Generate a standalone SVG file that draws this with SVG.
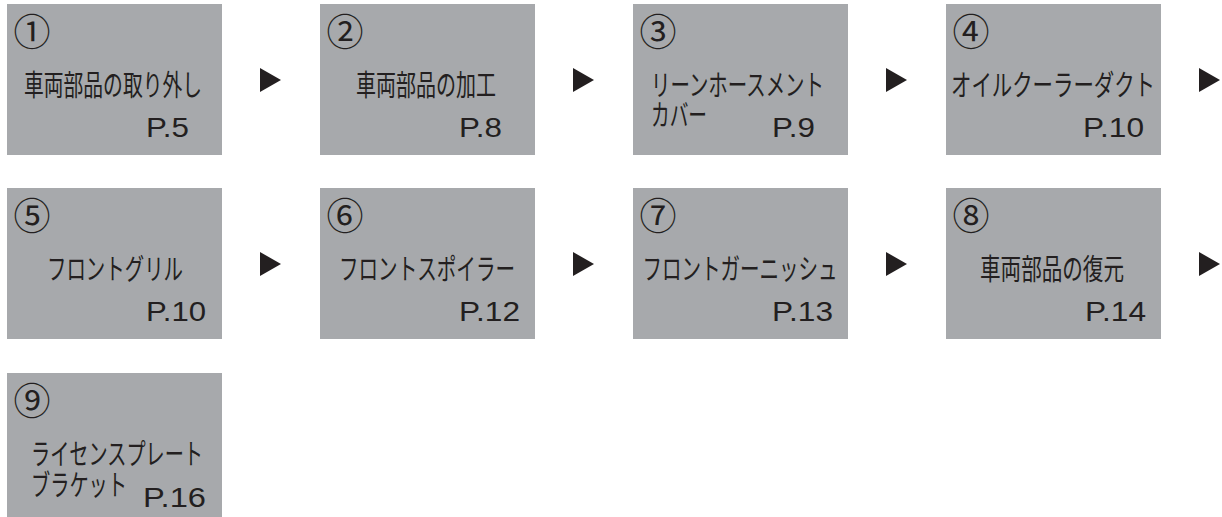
<svg xmlns="http://www.w3.org/2000/svg" width="1222" height="517" viewBox="0 0 1222 517">
<style>
.box{fill:#a7a9ac}
.num{font-family:"Noto Sans CJK JP","Noto Sans",sans-serif;font-size:37px;fill:#231f20;text-anchor:middle}
.ttl{font-family:"Noto Sans CJK JP",sans-serif;font-size:29px;font-weight:400;fill:#231f20}
.c{text-anchor:middle}
.pg{font-family:"Liberation Sans",Arial,sans-serif;font-size:27px;fill:#231f20}
.arr{fill:#231f20}
</style>
<rect width="1222" height="517" fill="#ffffff"/>
<g id="step1"><rect class="box" x="7" y="4" width="215" height="151"/><text class="num" x="32" y="45.5">①</text><text class="ttl c" x="113" y="96" textLength="178" lengthAdjust="spacingAndGlyphs">車両部品の取り外し</text><text class="pg" x="146" y="137" textLength="43" lengthAdjust="spacingAndGlyphs">P.5</text></g>
<g id="step2"><rect class="box" x="320" y="4" width="215" height="151"/><text class="num" x="345" y="45.5">②</text><text class="ttl c" x="426" y="96" textLength="140" lengthAdjust="spacingAndGlyphs">車両部品の加工</text><text class="pg" x="459" y="137" textLength="43" lengthAdjust="spacingAndGlyphs">P.8</text></g>
<g id="step3"><rect class="box" x="633" y="4" width="215" height="151"/><text class="num" x="658" y="45.5">③</text><text class="ttl" x="651" y="96" textLength="173" lengthAdjust="spacingAndGlyphs">リーンホースメント</text><text class="ttl" x="651" y="126" textLength="56" lengthAdjust="spacingAndGlyphs">カバー</text><text class="pg" x="772" y="137" textLength="43" lengthAdjust="spacingAndGlyphs">P.9</text></g>
<g id="step4"><rect class="box" x="946" y="4" width="215" height="151"/><text class="num" x="971" y="45.5">④</text><text class="ttl c" x="1053" y="96" textLength="204" lengthAdjust="spacingAndGlyphs">オイルクーラーダクト</text><text class="pg" x="1083" y="137" textLength="61" lengthAdjust="spacingAndGlyphs">P.10</text></g>
<g id="step5"><rect class="box" x="7" y="188" width="215" height="151"/><text class="num" x="32" y="229.5">⑤</text><text class="ttl c" x="115" y="280" textLength="136" lengthAdjust="spacingAndGlyphs">フロントグリル</text><text class="pg" x="146" y="321" textLength="60" lengthAdjust="spacingAndGlyphs">P.10</text></g>
<g id="step6"><rect class="box" x="320" y="188" width="215" height="151"/><text class="num" x="345" y="229.5">⑥</text><text class="ttl c" x="427" y="280" textLength="176" lengthAdjust="spacingAndGlyphs">フロントスポイラー</text><text class="pg" x="459" y="321" textLength="61" lengthAdjust="spacingAndGlyphs">P.12</text></g>
<g id="step7"><rect class="box" x="633" y="188" width="215" height="151"/><text class="num" x="658" y="229.5">⑦</text><text class="ttl c" x="740" y="280" textLength="195" lengthAdjust="spacingAndGlyphs">フロントガーニッシュ</text><text class="pg" x="772" y="321" textLength="61" lengthAdjust="spacingAndGlyphs">P.13</text></g>
<g id="step8"><rect class="box" x="946" y="188" width="215" height="151"/><text class="num" x="971" y="229.5">⑧</text><text class="ttl c" x="1052" y="280" textLength="144" lengthAdjust="spacingAndGlyphs">車両部品の復元</text><text class="pg" x="1085" y="321" textLength="61" lengthAdjust="spacingAndGlyphs">P.14</text></g>
<g id="step9"><rect class="box" x="7" y="373" width="215" height="151"/><text class="num" x="32" y="414.5">⑨</text><text class="ttl" x="31" y="465" textLength="172" lengthAdjust="spacingAndGlyphs">ライセンスプレート</text><text class="ttl" x="31" y="496" textLength="96" lengthAdjust="spacingAndGlyphs">ブラケット</text><text class="pg" x="143" y="507" textLength="63" lengthAdjust="spacingAndGlyphs">P.16</text></g>
<g id="connectors">
<polygon class="arr" points="260,68 260,92 281,80"/>
<polygon class="arr" points="573,68 573,92 594,80"/>
<polygon class="arr" points="886,68 886,92 907,80"/>
<polygon class="arr" points="1199,68 1199,92 1220,80"/>
<polygon class="arr" points="260,252 260,276 281,264"/>
<polygon class="arr" points="573,252 573,276 594,264"/>
<polygon class="arr" points="886,252 886,276 907,264"/>
<polygon class="arr" points="1199,252 1199,276 1220,264"/>
</g>
</svg>
